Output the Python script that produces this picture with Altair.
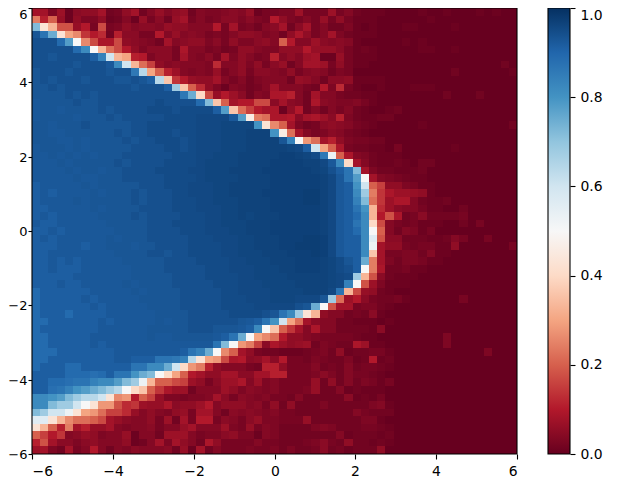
import altair as alt
import pandas as pd

alt.data_transformers.disable_max_rows()

# Colormap stops of the figure (red to blue)
CMAP_DOMAIN = [0.0, 0.1, 0.2, 0.3, 0.4, 0.5, 0.6, 0.7, 0.8, 0.9, 1.0]
CMAP_RANGE = ["#67001f", "#b2182b", "#d6604d", "#f4a582", "#fddbc7", "#f7f7f7",
              "#d1e5f0", "#92c5de", "#4393c3", "#2166ac", "#053061"]

# One character per cell: the key to the levels
LEVEL_CHARS = list("0123456789abcdefghijklmnopqrstuvwxyzABCDEFGHIJKLMNOPQRSTU")
LEVEL_VALUES = [.000, .008, .015, .022, .030, .038, .046, .054, .062, .070,
                .08, .09, .10, .11, .125, .14, .155, .17, .18, .20, .22, .24, .26, .28, .30, .33,
                .36, .40, .43, .46, .50, .53, .56, .60, .64, .68,
                .72, .75, .78, .80, .82, .84, .86, .87, .88, .89, .915, .925, .93, .94, .95, .955,
                .96, .965, .97, .975, 1.0]

# Rows from the top of the plot (y = 6) down to the bottom (y = -6)
ROWS = [
"aa491677a2 37a2585782 5445658133 4493339352 1110000100 100010100",
"ldj8174471 25183628a3 534664643c 7435383731 1100000010 000000000",
"Aspii8c3h3 4756658775 55c3a34256 a26a352241 0100011000 010000000",
"MHBsomfce2 d6633c5856 5343577645 27b735a421 1100000000 000000000",
"NNNJCumhbb h76542a567 7463744675 jc55965651 0000010100 000000000",
"NNNNNJEupk hc746663b5 5342377544 777c888631 2100000110 010000000",
"NNMNNNNKFx podc4663a5 463a47534d 5759a11831 1100000000 000000000",
"NNNNNMNNNL Expkg75655 54e5574736 825aa93731 1000000000 000000020",
"MNNNMNNNNM NNGyojd954 5483573665 4735652430 0000000000 020000001",
"MNMNNNMNNN MMNMKyqfc8 77a5352455 5287526671 1110000000 000000000",
"MMNMNNNNNN NNMNNNKzqj e74154235a 55532c4e31 0010001110 000000000",
"MMMMNMNMNN NNNNNNNNGB rh8c96254b bd52a55322 1100000000 200020000",
"LMMMMNMMNN NNNNNONNNN JAqjacchh6 a652b65445 3100000000 000000000",
"LMMLMMMMNM NNNNOOONOO OOKCqkgcab 17c2525352 1001200000 000000000",
"LMMMMLMMMN MNNNNNOOOO PPPPLCtlkb bc6ab96d42 1122000000 000000000",
"MMLMMMNMMM MMNNOOOOOO PPPQQQQDsm ja42367653 2100000100 000000002",
"MMLLMMMMMM NMNNOOONOO PPPQQQRRRD tka5346532 1000000000 000000000",
"MMMLLMLMMM MNMNNOOONO PPPQQQRRRR MFunkad743 3220000000 000000000",
"LMMMLMLMMM MMNNNNOONO PPPQQQRRRR RQPKxojb32 2110300000 010000000",
"LLMLMLMLMM MNNNNNNOOO PPQQQRRRRR SSRQOGvjb5 4211100000 000000000",
"LLLMLMMMMM NMNNNNOOOO PQQQQRRRRS SSSRRPLEra 5211210220 000000000",
"LLLLMLMMLM MNNNNOOOOP PQQQRRRRSS SSSSRQNKHA a422111200 000000000",
"LLLLLMLLMM MNNNNNOOOO PQQQQRRRRS SSSSSRPLHC ua54321100 000000000",
"KLLLLLMLMM MMMNNNOOOP PPQQRRRRRS SSSSSRPLKD xjg7743110 000000000",
"KLKLLLLMLM MMNMNNNOOP PPQQRRRRSS SSSTTRPLKE zlfb998710 000000000",
"KLLLLMLMMM MMNMNNNOOO PPQQQRRRRS SSSTTRPLKF Akf9bb5211 200000000",
"KKLLLLLMLM MMMNNNNOOO PPPQQRRRRS SSSSSRPLKH Dpe9655311 002000000",
"KLKLLLLLMM MMNMNNNNOO OPPQQRQRRR SSSSSRPLKJ Epcib23622 223000000",
"LKKLLLLLLM MMMMNNNOOO OPPQQQRRRS SSSSSRPLKH Erh5323111 002030000",
"KKLKLLLLLL MMMMNNNNOO OPPPQQRRRS SSSSSRPLKJ Euj5254130 000000000",
"KLKLLLLLLM LMMMNNNNNO OOPPPQQRRR SSSTTSPLKK Ewi6622211 253003000",
"KKKLLLKLLM MMLMMNNNNO OOOPPQQRRR SSTTTSPLKK Eva7732331 170000003",
"KKLLLLLLLL MMMMNNMNNO OOOPPQQQRR RSSSTSPLKK Eqa3344251 100000000",
"KKLKLKLLLL LMMMMMNNNN OOOOPPQQQR RRSSSRQOMK Bla4244311 000000000",
"KKLKKKLLLL LLMMMMNNNN NOOOPPPQQQ RRSSSRQONK ulb2231100 000000000",
"KKKKKLLLLL LLMMMMMNNN NOOOOPPQQQ QRRRRRQPOz pi62111000 000000000",
"KKKLKKLLLL LMLMMMMNNN NNOOOPPPQQ QQRRRRQPFu i941110000 000000000",
"JKKKKKKLLL LLMLMMMMNN NNNOOPPPPQ QQQRRRPHph 8721000000 000000000",
"JKKKKKLKLL LLLMMMMMNN NNNOOOPPPQ QQPPPMzk9c 6322310000 003000000",
"JKKKKKKLKL LLLLMMMMNN NNNOOOOPPP PPNMBuiaa3 4421000000 000000000",
"JKKKJKKKKL LLLLLMMMMN NNNNOOOONM HEzsp75523 2610000000 000000000",
"JJKKKKKKLK LLLLLMLMMN NNNNNMLKHD xoka655221 1101000000 000000000",
"JKKKKKKKLL LLLLMMMMMN NNMMMLKEuq jfa5b55222 2160000000 000000000",
"JJKKKKKLLL LLLLMLLMMM MMLKHBuomk c775433332 1100000000 400000000",
"JJKKKKKLKL LLLLLLLLLL LLHAunlg6b 978924322b 9110000000 400000000",
"JJJKKKKKKK LLLLLLLLKH FBumja7322 1112342712 2331000000 000004000",
"JJKKKKKKKK LLKKKHHGFy sonhbc67a6 c332432241 2c12000000 000000000",
"JKKKJJKKKK KKHHEEBxrn ld755532dd 7333523252 3321000000 000000000",
"KKKKJJJIJK HHDBAurojc a77aa66aad d333464253 3210000000 000000000",
"KKJJIHHFEE CAzvpjjhg9 73699b5945 3333827252 4313000000 000000000",
"KKIHFDCBAz yurqjfb992 5559746545 3334822512 1110000000 000000000",
"EEDCAzyyxs mncjg84434 45a6365453 3252222261 2130000000 000000000",
"EEAzzxusnn ief988b677 9c57775637 2722242222 2451000000 000000000",
"Azxxvsonkg ge85754783 aa52656545 3322222225 3222000000 000000000",
"wwspmkkjha 86557392a3 cc36536844 3338222222 4410000000 000000000",
"spjdlad88a 545563558a 5559438354 2222454222 3321000000 000000000",
"jgcf568745 5815529995 3446744154 2222222512 2212000000 000000000",
"dia6646755 57125a4a75 2b73333533 2223463272 2121000000 000000000",
"9a42a35c52 5465556281 a253334334 2422362312 2270000000 000000000",
]

TICKS = [-6, -4, -2, 0, 2, 4, 6]
CBAR_TICKS = [0.0, 0.2, 0.4, 0.6, 0.8, 1.0]
N = 59
EDGES = [-6 + 12 * i / N for i in range(N + 1)]

key = dict(zip(LEVEL_CHARS, LEVEL_VALUES))
records = []
for j, row in enumerate(ROWS):
    cells = row.replace(" ", "")
    assert len(cells) == N, (j, len(cells))
    for i, ch in enumerate(cells):
        records.append({"x0": EDGES[i], "x1": EDGES[i + 1],
                        "y0": EDGES[N - j - 1], "y1": EDGES[N - j], "v": key[ch]})
assert len(ROWS) == N
df = pd.DataFrame(records)

FONT = "DejaVu Sans"
base_axis = dict(labelFont=FONT, labelColor="black", tickColor="black",
                 tickWidth=1.1, domain=False, grid=False, title=None, labelOverlap=False)
W, H = 485, 446
cmap = alt.Scale(domain=CMAP_DOMAIN, range=CMAP_RANGE, interpolate="rgb", clamp=True)
pos_scale = alt.Scale(domain=[-6, 6], nice=False, zero=False, round=True)

heat = alt.Chart(df).mark_rect(clip=True).encode(
    x=alt.X("x0:Q", scale=pos_scale,
            axis=alt.Axis(values=TICKS, format="d", labelFontSize=13.9, tickSize=5,
                          labelPadding=5, **base_axis)),
    x2="x1:Q",
    y=alt.Y("y0:Q", scale=pos_scale,
            axis=alt.Axis(values=TICKS, format="d", labelFontSize=13, tickSize=4, labelPadding=1,
                          labelBaseline={"condition": {"test": "datum.value == 6", "value": "top"},
                                         "value": "middle"},
                          **base_axis)),
    y2="y1:Q",
    color=alt.Color("v:Q", scale=cmap, legend=None),
)
frame = alt.Chart(pd.DataFrame({"a": [0]})).mark_rect(
    fillOpacity=0, stroke="black", strokeWidth=1.1
).encode(x=alt.value(0), x2=alt.value(W), y=alt.value(0), y2=alt.value(H))
main = alt.layer(heat, frame).properties(width=W, height=H)

gradient = alt.LinearGradient(
    gradient="linear", x1=0, x2=0, y1=1, y2=0,
    stops=[alt.GradientStop(color=c, offset=d) for c, d in zip(CMAP_RANGE, CMAP_DOMAIN)],
)
CB_W = 22
bar = alt.Chart(pd.DataFrame({"lo": [0.0], "hi": [1.0]})).mark_rect(color=gradient).encode(
    x=alt.value(0), x2=alt.value(CB_W),
    y=alt.Y("lo:Q", scale=alt.Scale(domain=[0, 1], nice=False, zero=False),
            axis=alt.Axis(values=CBAR_TICKS, format=".1f", orient="right", labelFontSize=13.9,
                          tickSize=5, labelPadding=5,
                          labelBaseline={"condition": {"test": "datum.value == 1", "value": "top"},
                                         "value": "middle"},
                          **base_axis)),
    y2="hi:Q",
)
bar_frame = alt.Chart(pd.DataFrame({"a": [0]})).mark_rect(
    fillOpacity=0, stroke="black", strokeWidth=1.1
).encode(x=alt.value(0), x2=alt.value(CB_W), y=alt.value(0), y2=alt.value(H))
cbar = alt.layer(bar, bar_frame).properties(width=CB_W, height=H)

chart = alt.hconcat(main, cbar, spacing=31, bounds="flush").properties(
    padding={"left": -1, "top": -1, "right": 0, "bottom": 0},
    background="white",
).configure_view(stroke=None)

chart.save("out.html", embed_options={"renderer": "svg", "actions": False})
